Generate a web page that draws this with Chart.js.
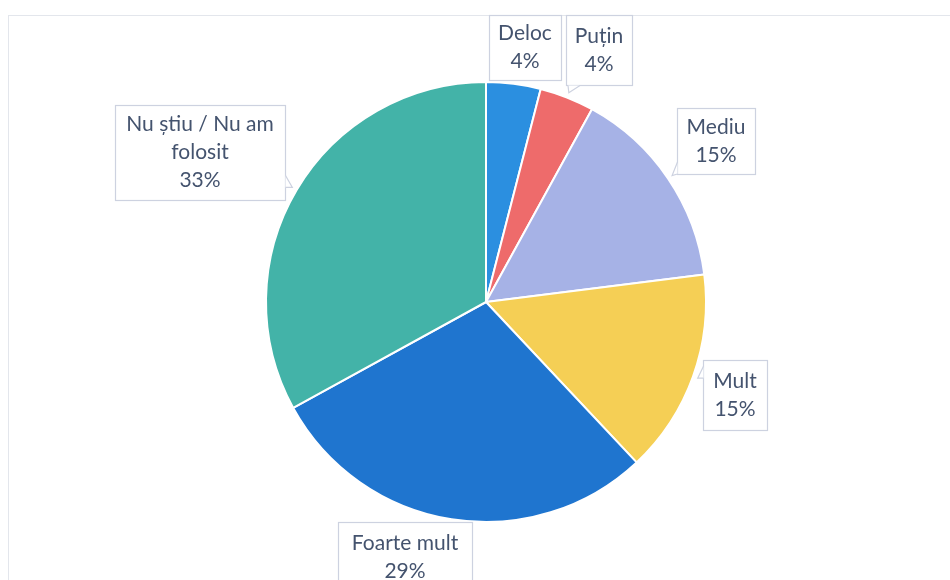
<!DOCTYPE html>
<html lang="ro">
<head>
    <meta charset="UTF-8">
    <title>Pie chart</title>
    <style>
        html, body { margin: 0; padding: 0; background: #fff; }
        #wrap { position: relative; width: 950px; height: 580px; }
    </style>
</head>
<body>
    <div id="wrap">
        <canvas id="myChart" width="950" height="580"></canvas>
    </div>

    <script src="https://cdn.jsdelivr.net/npm/chart.js@4.4.1/dist/chart.umd.min.js"></script>
    <script>
        // Data
        const categories = ['Deloc', 'Puțin', 'Mediu', 'Mult', 'Foarte mult', 'Nu știu / Nu am folosit'];
        const values = [4, 4, 15, 15, 29, 33];
        const sliceColors = ['#2b8fe0', '#ee6b6b', '#a6b2e6', '#f5cf55', '#1f75cf', '#43b3a8'];

        // callout boxes [left, top, width, height] - layout only
        const labelBoxes = [
            [489, 15, 72, 65],
            [566, 15, 66, 70],
            [677, 108, 78, 66],
            [703, 360, 64, 70],
            [338, 522, 134, 70],
            [115, 105, 170, 95]
        ];

        const FONT = '21px Lato, "Open Sans", sans-serif';
        const TEXT = '#44536e';

        function wrapText(ctx, text, maxW) {
            const words = text.split(' ');
            const lines = [];
            let cur = '';
            words.forEach(w => {
                const t = cur ? cur + ' ' + w : w;
                if (ctx.measureText(t).width > maxW && cur) {
                    lines.push(cur);
                    cur = w;
                } else {
                    cur = t;
                }
            });
            if (cur) lines.push(cur);
            return lines;
        }

        // draws the faint frame and the callout labels
        const calloutPlugin = {
            id: 'callouts',
            beforeDraw(chart) {
                const ctx = chart.ctx;
                ctx.save();
                ctx.strokeStyle = '#e3e6ec';
                ctx.lineWidth = 1;
                ctx.strokeRect(8.5, 15.5, 960, 600);
                ctx.restore();
            },
            afterDatasetsDraw(chart) {
                const ctx = chart.ctx;
                const meta = chart.getDatasetMeta(0);
                const total = values.reduce((a, b) => a + b, 0);
                ctx.save();
                ctx.font = FONT;
                meta.data.forEach((arc, i) => {
                    const [bx, by, bw, bh] = labelBoxes[i];
                    const mid = (arc.startAngle + arc.endAngle) / 2;
                    const tx = arc.x + Math.cos(mid) * (arc.outerRadius + 5);
                    const ty = arc.y + Math.sin(mid) * (arc.outerRadius + 5);

                    ctx.fillStyle = '#fff';
                    ctx.strokeStyle = '#cdd2e0';
                    ctx.lineWidth = 1.2;
                    ctx.fillRect(bx, by, bw, bh);
                    ctx.strokeRect(bx + 0.5, by + 0.5, bw, bh);

                    // pointer notch
                    let base = null;
                    if (tx < bx) {
                        const y1 = Math.min(Math.max(ty - 12, by + 2), by + bh - 12);
                        base = [[bx + 0.5, y1], [bx + 0.5, y1 + 12]];
                    } else if (tx > bx + bw) {
                        const y1 = Math.min(Math.max(ty - 12, by + 2), by + bh - 12);
                        base = [[bx + bw + 0.5, y1], [bx + bw + 0.5, y1 + 12]];
                    } else if (ty > by + bh) {
                        const x1 = Math.min(Math.max(tx - 4, bx + 2), bx + bw - 14);
                        base = [[x1, by + bh + 0.5], [x1 + 12, by + bh + 0.5]];
                    } else if (ty < by) {
                        const x1 = Math.min(Math.max(tx - 6, bx + 2), bx + bw - 14);
                        base = [[x1, by + 0.5], [x1 + 12, by + 0.5]];
                    }
                    if (base) {
                        ctx.beginPath();
                        ctx.moveTo(base[0][0], base[0][1]);
                        ctx.lineTo(tx, ty);
                        ctx.lineTo(base[1][0], base[1][1]);
                        ctx.closePath();
                        ctx.fill();
                        ctx.beginPath();
                        ctx.moveTo(base[0][0], base[0][1]);
                        ctx.lineTo(tx, ty);
                        ctx.lineTo(base[1][0], base[1][1]);
                        ctx.stroke();
                    }

                    const pct = Math.round(values[i] / total * 100) + '%';
                    const lines = wrapText(ctx, categories[i], bw - 12).concat([pct]);
                    const lh = 28;
                    const cx = bx + bw / 2;
                    const startY = by + bh / 2 - (lines.length - 1) * lh / 2;
                    ctx.fillStyle = TEXT;
                    ctx.textAlign = 'center';
                    ctx.textBaseline = 'middle';
                    lines.forEach((l, k) => ctx.fillText(l, cx, startY + k * lh));
                });
                ctx.restore();
            }
        };

        const ctx = document.getElementById('myChart').getContext('2d');
        new Chart(ctx, {
            type: 'pie',
            data: {
                labels: categories,
                datasets: [{
                    data: values,
                    backgroundColor: sliceColors,
                    borderColor: '#ffffff',
                    borderWidth: 2
                }]
            },
            options: {
                responsive: false,
                animation: false,
                layout: { padding: { left: 265, right: 243, top: 81, bottom: 57 } },
                plugins: {
                    legend: { display: false },
                    tooltip: { enabled: false }
                }
            },
            plugins: [calloutPlugin]
        });
    </script>
</body>
</html>
